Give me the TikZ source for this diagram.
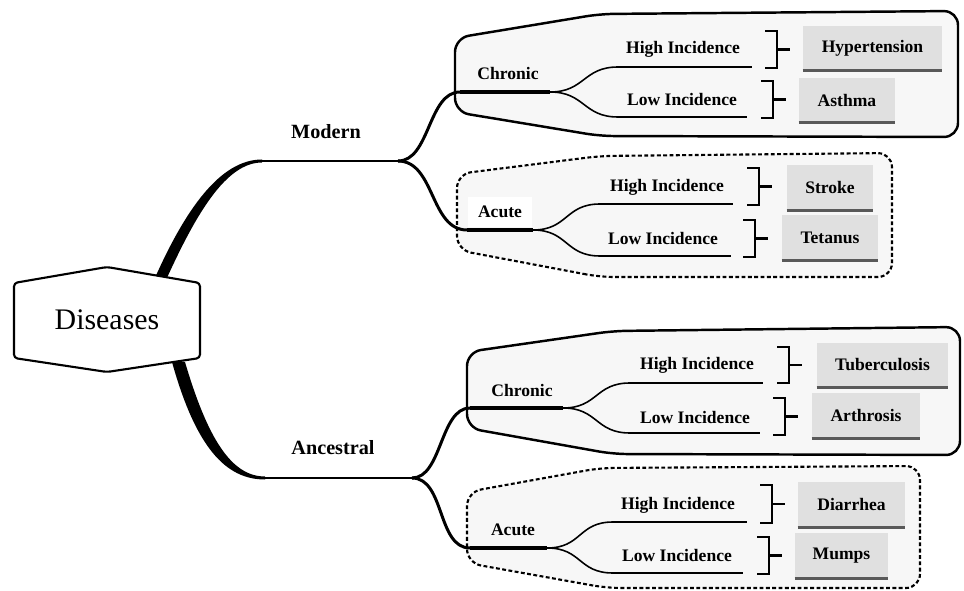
\documentclass[tikz,border=0pt]{standalone}
\usepackage{fontspec}
\setmainfont{Liberation Serif}
\begin{document}
\begin{tikzpicture}[x=0.02cm,y=-0.02cm,
  group/.style={draw,line width=1.4pt,rounded corners=8pt,fill=black!3},
  acutegroup/.style={group,line width=1.2pt,dash pattern=on 2.2pt off 1.4pt},
  branch/.style={line width=1.7pt},
  twig/.style={line width=0.9pt},
  incline/.style={line width=1.1pt},
  lbl/.style={font=\bfseries,inner sep=2pt},
  biglbl/.style={font=\bfseries\fontsize{11.5}{14}\selectfont,inner sep=2pt},
  leaf/.style={fill=black!12,font=\bfseries,minimum height=0.9cm,inner sep=2pt},
  bracket/.style={line width=1.4pt}]
\useasboundingbox (0,0) rectangle (964,591);
% groups
\draw[group] (600,136)--(455,112)--(455,38)--(600,14)--(958,11)--(958,137)--cycle;
\draw[acutegroup] (600,277)--(457,250)--(457,174)--(600,156)--(892,153)--(892,277)--cycle;
\draw[group] (613,454)--(467,428)--(467,352)--(613,331)--(960,327)--(960,455)--cycle;
\draw[acutegroup] (607,588)--(467,563)--(467,492)--(600,468)--(920,466)--(920,588)--cycle;
% trunks
\fill (154,280) .. controls (185,210) and (220,159.5) .. (262,159.5) -- (262,162.5) .. controls (226,162.5) and (196,214) .. (166,280) -- cycle;
\fill (172,362) .. controls (196,448) and (226,479.5) .. (265,479.5) -- (265,476.5) .. controls (232,476.5) and (208,440) .. (185,362) -- cycle;
\draw[line width=1.2pt,fill=white,rounded corners=2pt] (107,267)--(200,283)--(200,358)--(107,372)--(14,358)--(14,283)--cycle;
\node (dis) at (107,320) {\fontsize{17}{20}\selectfont Diseases};
% Modern
\coordinate (mod0) at (262,161);
\coordinate (mod1) at (398,161);
\draw[branch] (mod0)--(mod1);
\node[biglbl] (modern) at (326,132) {Modern};
\coordinate (mc0) at (460,92);
\coordinate (mc1) at (550,92);
\draw[branch] (mod1) .. controls +(32,0) and +(-32,0) .. (mc0);
\draw[line width=2pt] (mc0)--(mc1);
\node[lbl] (mchron) at (508,73) {Chronic};
\coordinate (mch0) at (618,67);
\coordinate (mch1) at (752,67);
\coordinate (mcl0) at (618,117);
\coordinate (mcl1) at (747,117);
\draw[twig] (mc1) .. controls +(35,0) and +(-35,0) .. (mch0);
\draw[twig] (mc1) .. controls +(35,0) and +(-35,0) .. (mcl0);
\draw[incline] (mch0)--(mch1);
\draw[incline] (mcl0)--(mcl1);
\node[lbl] (mchi) at (683,49) {High Incidence};
\node[lbl] (mclo) at (682,99) {Low Incidence};
\coordinate (ma0) at (467,230);
\coordinate (ma1) at (533,230);
\draw[branch] (mod1) .. controls +(37,0) and +(-37,0) .. (ma0);
\draw[line width=2pt] (ma0)--(ma1);
\node[lbl,fill=white,minimum width=1.28cm,minimum height=0.6cm] (macute) at (500,212) {Acute};
\coordinate (mah0) at (600,204);
\coordinate (mah1) at (733,204);
\coordinate (mal0) at (600,256);
\coordinate (mal1) at (731,256);
\draw[twig] (ma1) .. controls +(35,0) and +(-35,0) .. (mah0);
\draw[twig] (ma1) .. controls +(35,0) and +(-35,0) .. (mal0);
\draw[incline] (mah0)--(mah1);
\draw[incline] (mal0)--(mal1);
\node[lbl] (mahi) at (667,187) {High Incidence};
\node[lbl] (malo) at (663,238) {Low Incidence};
% Ancestral
\coordinate (anc0) at (265,478);
\coordinate (anc1) at (412,478);
\draw[branch] (anc0)--(anc1);
\node[biglbl] (ancestral) at (333,448) {Ancestral};
\coordinate (ac0) at (470,408);
\coordinate (ac1) at (563,408);
\draw[branch] (anc1) .. controls +(30,0) and +(-30,0) .. (ac0);
\draw[line width=2pt] (ac0)--(ac1);
\node[lbl] (achron) at (522,390) {Chronic};
\coordinate (ach0) at (630,383);
\coordinate (ach1) at (763,383);
\coordinate (acl0) at (630,433);
\coordinate (acl1) at (760,433);
\draw[twig] (ac1) .. controls +(35,0) and +(-35,0) .. (ach0);
\draw[twig] (ac1) .. controls +(35,0) and +(-35,0) .. (acl0);
\draw[incline] (ach0)--(ach1);
\draw[incline] (acl0)--(acl1);
\node[lbl] (achi) at (697,365) {High Incidence};
\node[lbl] (aclo) at (695,417) {Low Incidence};
\coordinate (aa0) at (470,548);
\coordinate (aa1) at (547,548);
\draw[branch] (anc1) .. controls +(33,0) and +(-33,0) .. (aa0);
\draw[line width=2pt] (aa0)--(aa1);
\node[lbl] (aacute) at (513,530) {Acute};
\coordinate (aah0) at (613,522);
\coordinate (aah1) at (747,522);
\coordinate (aal0) at (613,573);
\coordinate (aal1) at (743,573);
\draw[twig] (aa1) .. controls +(35,0) and +(-35,0) .. (aah0);
\draw[twig] (aa1) .. controls +(35,0) and +(-35,0) .. (aal0);
\draw[incline] (aah0)--(aah1);
\draw[incline] (aal0)--(aal1);
\node[lbl] (aahi) at (678,505) {High Incidence};
\node[lbl] (aalo) at (677,555) {Low Incidence};
% leaves
\node[leaf,minimum width=2.78cm] (hyp) at (872.5,48) {Hypertension};
\node[leaf,minimum width=1.92cm] (ast) at (847,100) {Asthma};
\node[leaf,minimum width=1.72cm] (str) at (830,187.5) {Stroke};
\node[leaf,minimum width=1.92cm] (tet) at (830,237.5) {Tetanus};
\node[leaf,minimum width=2.62cm] (tub) at (882.5,365) {Tuberculosis};
\node[leaf,minimum width=2.16cm] (art) at (866,415.5) {Arthrosis};
\node[leaf,minimum width=2.14cm] (dia) at (851.5,504.5) {Diarrhea};
\node[leaf,minimum width=1.86cm] (mum) at (841.5,555.5) {Mumps};
\foreach \n in {hyp,ast,str,tet,tub,art,dia,mum}
  \draw[line width=1.7pt,black!65] (\n.south west)--(\n.south east);
\foreach \x/\t/\b in {765/31/68,761/81/118,747/168/205,743/220/257,777/347/383,773/398/435,760/485/523,757/537/574}
  \draw[bracket] (\x,\t) -| (\x+12,\b) -- (\x,\b) (\x+12,{(\t+\b)/2}) -- ++(13,0);
\end{tikzpicture}
\end{document}
